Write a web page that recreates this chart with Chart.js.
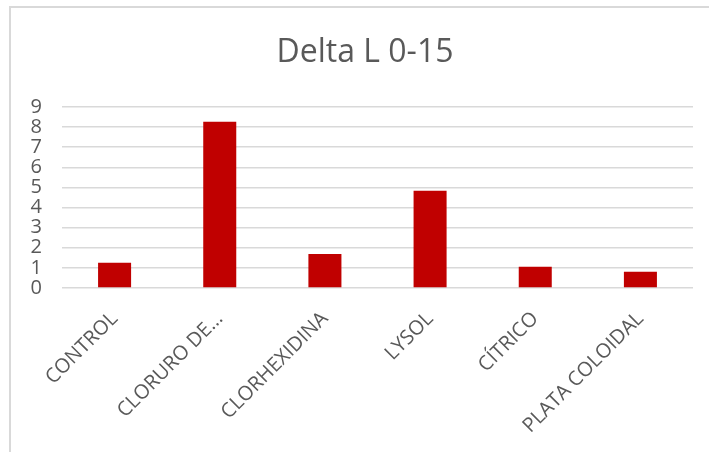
<!DOCTYPE html>
<html>
<head>
<meta charset="utf-8">
<title>Delta L 0-15</title>
<script src="https://cdn.jsdelivr.net/npm/chart.js@4.4.0/dist/chart.umd.min.js"></script>
<style>
  html, body { margin: 0; padding: 0; background: #fff; }
  #wrap { position: relative; width: 709px; height: 452px; overflow: hidden; }
  #frame {
    position: absolute; left: 9px; top: 6px; width: 900px; height: 700px;
    border-left: 2px solid #d9d9d9; border-top: 2px solid #d9d9d9;
  }
  #chart { position: absolute; left: 0; top: 0; }
</style>
</head>
<body>
<div id="wrap">
  <div id="frame"></div>
  <canvas id="chart" width="709" height="452"></canvas>
</div>
<script>
const categories = ['CONTROL', 'CLORURO DE…', 'CLORHEXIDINA', 'LYSOL', 'CÍTRICO', 'PLATA COLOIDAL'];
const deltaL = [1.26, 8.27, 1.69, 4.83, 1.06, 0.81];
const yTicks = [0, 1, 2, 3, 4, 5, 6, 7, 8, 9];
const chartTitle = 'Delta L 0-15';

const textColor = '#595959';
const gridColor = '#d9d9d9';
const barColor = '#c00000';
const fontFamily = '"Open Sans", "Noto Sans", sans-serif';

// Title centred over the framed area rather than the canvas
const frameTitle = {
  id: 'frameTitle',
  afterDraw(chart) {
    const ctx = chart.ctx;
    ctx.save();
    ctx.font = '32px ' + fontFamily;
    ctx.fillStyle = textColor;
    ctx.textAlign = 'center';
    ctx.textBaseline = 'middle';
    ctx.fillText(chartTitle, 365, 53);
    ctx.restore();
  }
};

new Chart(document.getElementById('chart'), {
  type: 'bar',
  data: {
    labels: categories,
    datasets: [{
      label: chartTitle,
      data: deltaL,
      backgroundColor: barColor,
      borderWidth: 0,
      categoryPercentage: 1,
      barPercentage: 0.314
    }]
  },
  options: {
    responsive: false,
    animation: false,
    layout: { padding: { left: 0, right: 16, top: 107, bottom: 0 } },
    plugins: {
      legend: { display: false },
      tooltip: { enabled: false },
      title: { display: false }
    },
    scales: {
      x: {
        grid: { display: false, drawTicks: false },
        border: { display: false },
        ticks: {
          autoSkip: false,
          maxRotation: 45,
          minRotation: 45,
          padding: 19,
          color: textColor,
          font: { family: fontFamily, size: 20 }
        },
        afterFit: (scale) => { scale.height = 164; }
      },
      y: {
        min: 0,
        max: 9,
        afterBuildTicks: (scale) => { scale.ticks = yTicks.map(v => ({ value: v })); },
        grid: { color: gridColor, lineWidth: 1.5, drawTicks: false },
        border: { display: false },
        ticks: {
          autoSkip: false,
          padding: 20,
          color: textColor,
          font: { family: fontFamily, size: 20 }
        },
        afterFit: (scale) => { scale.width = 62; }
      }
    }
  },
  plugins: [frameTitle]
});
</script>
</body>
</html>
